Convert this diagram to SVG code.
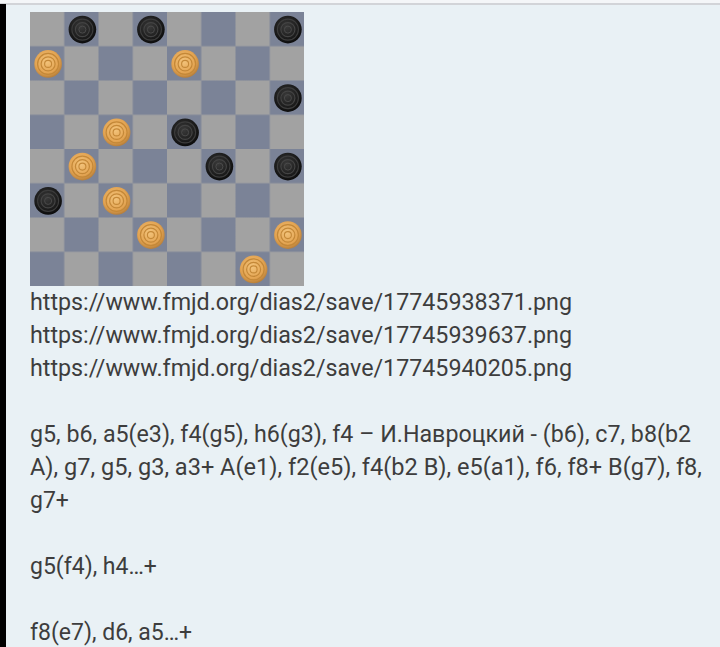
<svg xmlns="http://www.w3.org/2000/svg" width="720" height="647" viewBox="0 0 720 647">
<defs>
<style>
.t{font-family:Roboto,"Liberation Sans",sans-serif;font-size:23px;fill:#3d3d3d}
</style>
<pattern id="chk" x="30" y="12" width="68.5" height="68.5" patternUnits="userSpaceOnUse">
<rect width="68.5" height="68.5" fill="#a2a2a2"/>
<rect x="34.25" y="0" width="34.25" height="34.25" fill="#7b8397"/>
<rect x="0" y="34.25" width="34.25" height="34.25" fill="#7b8397"/>
</pattern>
<radialGradient id="gold" cx="0.45" cy="0.4" r="0.6">
<stop offset="0" stop-color="#f3c47c"/>
<stop offset="0.7" stop-color="#e3a452"/>
<stop offset="1" stop-color="#b9803a"/>
</radialGradient>
<radialGradient id="blk" cx="0.45" cy="0.4" r="0.6">
<stop offset="0" stop-color="#3a3a3a"/>
<stop offset="0.7" stop-color="#1c1c1c"/>
<stop offset="1" stop-color="#0c0c0c"/>
</radialGradient>
<g id="wp">
<circle r="13.8" fill="url(#gold)"/>
<circle r="10.5" fill="none" stroke="#c48838" stroke-width="1.2"/>
<circle r="7" fill="none" stroke="#c48838" stroke-width="1.2"/>
<circle r="3.5" fill="none" stroke="#c48838" stroke-width="1.1"/>
</g>
<g id="bp">
<circle r="13.8" fill="url(#blk)"/>
<circle r="10.5" fill="none" stroke="#3c3c3c" stroke-width="1.1"/>
<circle r="7" fill="none" stroke="#444" stroke-width="1.1"/>
<circle r="3.5" fill="none" stroke="#4a4a4a" stroke-width="1"/>
</g>
</defs>
<rect width="720" height="647" fill="#e9f1f5"/>
<rect width="720" height="3" fill="#f4f6f8"/>
<rect y="3" width="720" height="2" fill="#d2d4d8"/>
<rect x="0" y="4" width="6" height="643" fill="#000"/>
<g id="board">
<rect x="30" y="12" width="274" height="274" fill="url(#chk)"/>
</g>
<g id="pieces">
<use href="#bp" x="82.4" y="29.6"/>
<use href="#bp" x="150.9" y="29.6"/>
<use href="#bp" x="287.9" y="29.6"/>
<use href="#wp" x="48.1" y="63.9"/>
<use href="#wp" x="185.1" y="63.9"/>
<use href="#bp" x="287.9" y="98.1"/>
<use href="#wp" x="116.6" y="132.4"/>
<use href="#bp" x="185.1" y="132.4"/>
<use href="#wp" x="82.4" y="166.6"/>
<use href="#bp" x="219.4" y="166.6"/>
<use href="#bp" x="287.9" y="166.6"/>
<use href="#bp" x="48.1" y="200.9"/>
<use href="#wp" x="116.6" y="200.9"/>
<use href="#wp" x="150.9" y="235.1"/>
<use href="#wp" x="287.9" y="235.1"/>
<use href="#wp" x="253.6" y="269.4"/>
</g>
<g id="text">
<text class="t" x="30" y="310" textLength="542" lengthAdjust="spacingAndGlyphs">https://www.fmjd.org/dias2/save/17745938371.png</text>
<text class="t" x="30" y="343" textLength="542" lengthAdjust="spacingAndGlyphs">https://www.fmjd.org/dias2/save/17745939637.png</text>
<text class="t" x="30" y="376" textLength="542" lengthAdjust="spacingAndGlyphs">https://www.fmjd.org/dias2/save/17745940205.png</text>
<text class="t" x="30" y="442" textLength="661" lengthAdjust="spacingAndGlyphs">g5, b6, a5(e3), f4(g5), h6(g3), f4 – И.Навроцкий - (b6), c7, b8(b2</text>
<text class="t" x="30" y="475" textLength="672" lengthAdjust="spacingAndGlyphs">A), g7, g5, g3, a3+ A(e1), f2(e5), f4(b2 B), e5(a1), f6, f8+ B(g7), f8,</text>
<text class="t" x="30" y="508">g7+</text>
<text class="t" x="30" y="574">g5(f4), h4…+</text>
<text class="t" x="30" y="640">f8(e7), d6, a5…+</text>
</g>
</svg>
